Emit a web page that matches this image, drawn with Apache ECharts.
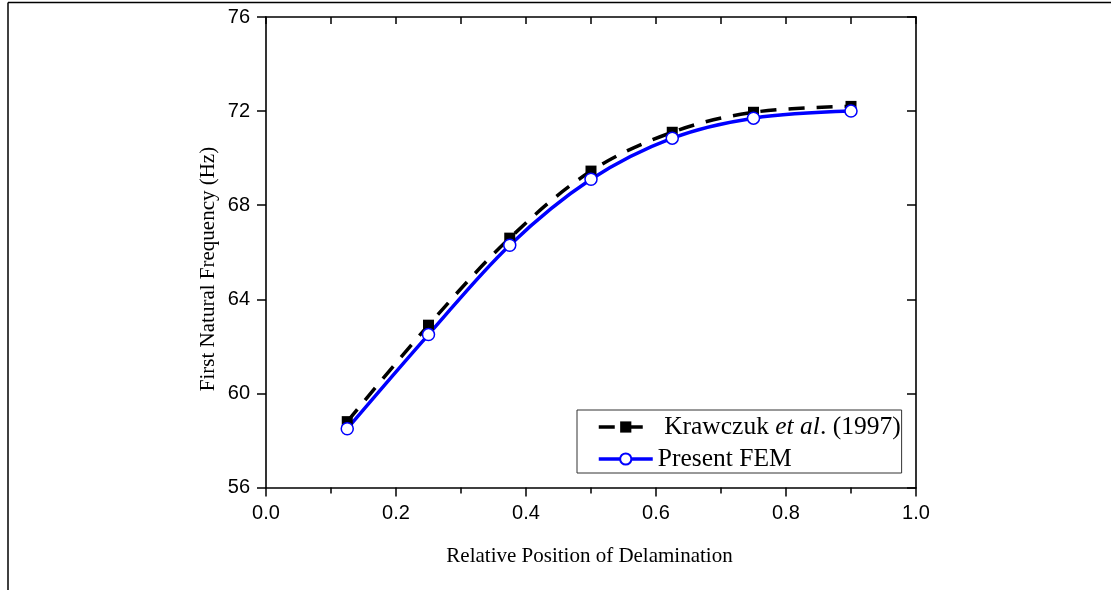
<!DOCTYPE html>
<html>
<head>
<meta charset="utf-8">
<script src="https://cdn.jsdelivr.net/npm/echarts@6/dist/echarts.min.js"></script>
<style>html,body{margin:0;padding:0;background:#fff}#c{width:1111px;height:590px}</style>
</head>
<body>
<div id="c"></div>
<script>
var positions = [0.125, 0.25, 0.375, 0.5, 0.625, 0.75, 0.9];
var krawczuk = [58.8, 62.9, 66.6, 69.45, 71.1, 71.95, 72.2];
var presentFEM = [58.5, 62.5, 66.3, 69.1, 70.85, 71.7, 72.0];
var seriesNames = ['Krawczuk et al. (1997)', 'Present FEM'];
var xTitle = 'Relative Position of Delamination';
var yTitle = 'First Natural Frequency (Hz)';

function pairs(xs, ys) { return xs.map(function (x, i) { return [x, ys[i]]; }); }

var chart = echarts.init(document.getElementById('c'));
var tickFont = { fontFamily: 'Liberation Sans', fontSize: 20, color: '#000' };
var axisLine = { show: true, onZero: false, lineStyle: { color: '#000', width: 1.6 } };

chart.setOption({
  animation: false,
  grid: { left: 266, right: 195, top: 17, bottom: 102.5, containLabel: false },
  xAxis: [
    { type: 'value', position: 'bottom', min: 0, max: 1, interval: 0.2,
      axisLine: axisLine,
      axisTick: { show: true, inside: false, length: 9, lineStyle: { color: '#000', width: 1.5 } },
      minorTick: { show: true, splitNumber: 2, length: 6, lineStyle: { color: '#000', width: 1.5 } },
      axisLabel: Object.assign({ margin: 16, formatter: function (v) { return v.toFixed(1); } }, tickFont),
      splitLine: { show: false } },
    { type: 'value', position: 'top', min: 0, max: 1, interval: 0.2,
      axisLine: axisLine,
      axisTick: { show: true, inside: true, length: 7, lineStyle: { color: '#000', width: 1.5 } },
      minorTick: { show: true, splitNumber: 2, length: 7, lineStyle: { color: '#000', width: 1.5 } },
      axisLabel: { show: false }, splitLine: { show: false } }
  ],
  yAxis: [
    { type: 'value', position: 'left', min: 56, max: 76, interval: 4,
      axisLine: axisLine,
      axisTick: { show: true, inside: false, length: 9, lineStyle: { color: '#000', width: 1.5 } },
      axisLabel: Object.assign({ margin: 16 }, tickFont),
      splitLine: { show: false } },
    { type: 'value', position: 'right', min: 56, max: 76, interval: 4,
      axisLine: axisLine,
      axisTick: { show: true, inside: true, length: 9, lineStyle: { color: '#000', width: 1.5 } },
      axisLabel: { show: false }, splitLine: { show: false } }
  ],
  legend: {
    orient: 'vertical', left: 577, top: 410,
    padding: [4, 1, 1, 20],
    itemGap: 6, itemWidth: 54, itemHeight: 14,
    borderColor: '#333', borderWidth: 1, borderRadius: 0,
    data: seriesNames,
    lineStyle: { width: 3.5 },
    textStyle: { fontFamily: 'Liberation Serif', fontSize: 25.5, lineHeight: 25, color: '#000',
      rich: {
        n: { fontFamily: 'Liberation Serif', fontSize: 25.5, lineHeight: 25, color: '#000' },
        i: { fontFamily: 'Liberation Serif', fontSize: 25.5, lineHeight: 25, color: '#000', fontStyle: 'italic' }
      } },
    formatter: function (name) {
      if (name === seriesNames[0]) return ' {n|Krawczuk }{i|et al}{n|. (1997)}';
      return name;
    }
  },
  series: [
    { name: seriesNames[0], type: 'line', smooth: 0.35,
      data: pairs(positions, krawczuk),
      symbol: 'rect', symbolSize: 11,
      lineStyle: { color: '#000', width: 3.5, type: [16, 12] },
      itemStyle: { color: '#000' } },
    { name: seriesNames[1], type: 'line', smooth: 0.35,
      data: pairs(positions, presentFEM),
      symbol: 'circle', symbolSize: 12,
      lineStyle: { color: '#0000ff', width: 3.5 },
      itemStyle: { color: '#fff', borderColor: '#0000ff', borderWidth: 1.5 } }
  ],
  graphic: [
    { type: 'line', shape: { x1: 8, y1: 2.5, x2: 1111, y2: 2.5 }, style: { stroke: '#000', lineWidth: 1.5 } },
    { type: 'line', shape: { x1: 8, y1: 2.5, x2: 8, y2: 590 }, style: { stroke: '#000', lineWidth: 1.5 } },
    { type: 'text', x: 589.5, y: 556, style: { text: xTitle, font: '21px "Liberation Serif"', fill: '#000', align: 'center', verticalAlign: 'middle' } },
    { type: 'text', x: 208, y: 269, rotation: Math.PI / 2, style: { text: yTitle, font: '21px "Liberation Serif"', fill: '#000', align: 'center', verticalAlign: 'middle' } }
  ]
});
</script>
</body>
</html>
